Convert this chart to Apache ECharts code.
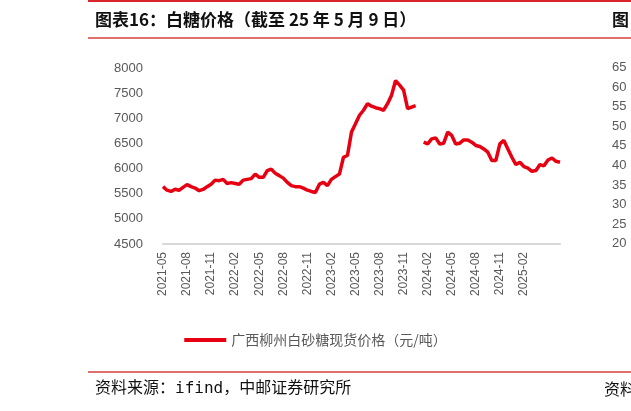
<!DOCTYPE html>
<html><head><meta charset="utf-8">
<script src="https://cdn.jsdelivr.net/npm/echarts@6/dist/echarts.min.js"></script>
<style>html,body{margin:0;padding:0;background:#fff}#c{width:631px;height:411px}</style>
</head><body><div id="c"></div>
<script>
const title = '图表16：白糖价格（截至 25 年 5 月 9 日）';
const source = '资料来源：ifind，中邮证券研究所';
const seriesName = '广西柳州白砂糖现货价格（元/吨）';
const tickMonths = ['02','05','08','11'];
const lastTick = '2025-02';
const rightLabels = ['65','60','55','50','45','40','35','30','25','20'];
// semi-monthly values from 2021-05 to 2025-05
const prices = [5640,5570,5545,5590,5570,5625,5680,5640,5612,5560,5585,5640,5690,5770,5760,5785,5705,5720,5705,5690,
5770,5785,5800,5890,5825,5825,5960,5990,5905,5860,5810,5725,5660,5640,5640,5612,5570,5545,5525,5690,
5725,5660,5785,5840,5890,6225,6260,6725,6890,7060,7160,7290,7240,7210,7190,7160,7290,7460,7750,7660,
7560,7190,7220,7250,null,6525,6490,6590,6610,6490,6505,6725,6660,6490,6505,6570,6570,6525,6460,6440,
6390,6325,6160,6160,6490,6560,6390,6225,6080,6125,6040,6010,5945,5960,6080,6055,6170,6210,6145,6125];
const categories = [];
for (let i = 0; i < prices.length; i++) {
  const y = 2021 + Math.floor((4 + Math.floor(i/2)) / 12);
  const m = ((4 + Math.floor(i/2)) % 12) + 1;
  categories.push(y + '-' + String(m).padStart(2,'0') + (i % 2 ? '-16' : '-01'));
}
const chart = echarts.init(document.getElementById('c'));
const gray = '#595959';
const graphics = [
  {type:'rect', shape:{x:88,y:0,width:560,height:2}, style:{fill:'#d9262b'}},
  {type:'text', left:95, top:11, style:{text:title, font:'bold 17px "Noto Sans CJK SC"', fill:'#111'}},
  {type:'rect', shape:{x:88,y:37,width:560,height:2}, style:{fill:'#e07070'}},
  {type:'rect', shape:{x:88,y:371,width:560,height:2}, style:{fill:'#e07070'}},
  {type:'text', left:95, top:381, style:{text:source, font:'16px "DejaVu Sans Mono","Noto Sans CJK SC"', fill:'#111'}},
  {type:'text', left:604, top:381, style:{text:'资料', font:'16px "Noto Sans CJK SC"', fill:'#111'}},
  {type:'text', left:612, top:11, style:{text:'图', font:'bold 17px "Noto Sans CJK SC"', fill:'#111'}}
];
rightLabels.forEach((t,i)=>graphics.push({type:'text', left:612, top:61+i*19.6, style:{text:t, font:'13px "Liberation Sans"', fill:gray}}));
chart.setOption({
  animation:false,
  grid:{left:163,right:71,top:68,bottom:167},
  graphic:graphics,
  legend:{top:328,left:'center',itemWidth:42,itemHeight:4,icon:'rect',
    textStyle:{color:gray,fontSize:14,fontFamily:'"Noto Sans CJK SC"'},data:[seriesName]},
  xAxis:{type:'category',data:categories,boundaryGap:false,
    axisLine:{lineStyle:{color:'#d9d9d9',width:2}},axisTick:{show:false},
    axisLabel:{rotate:90,color:gray,fontSize:12,fontFamily:'"Liberation Sans"',
      interval:(i,v)=>v.endsWith('-01') && tickMonths.includes(v.slice(5,7)) && v.slice(0,7) <= lastTick,
      formatter:v=>v.slice(0,7)}},
  yAxis:{type:'value',min:4500,max:8000,interval:500,splitLine:{show:false},
    axisLine:{show:false},axisTick:{show:false},
    axisLabel:{color:gray,fontSize:13,fontFamily:'"Liberation Sans"',margin:20,formatter:v=>String(v)}},
  series:[{name:seriesName,type:'line',data:prices,showSymbol:false,connectNulls:false,
    lineStyle:{color:'#e60012',width:3.5},itemStyle:{color:'#e60012'}}]
});
</script></body></html>
